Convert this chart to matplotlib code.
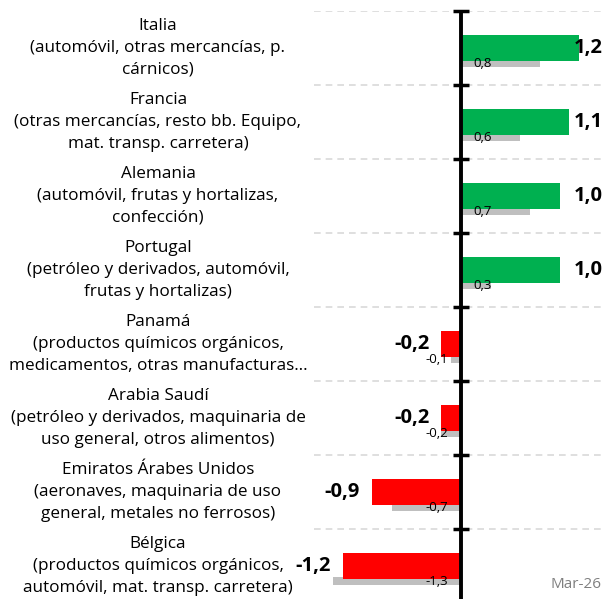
import matplotlib.pyplot as plt
import matplotlib.transforms as mtransforms

plt.rcParams['font.family'] = ['Open Sans', 'DejaVu Sans']

# Data
paises = [
    "Italia\n(automóvil, otras mercancías, p.\ncárnicos)",
    "Francia\n(otras mercancías, resto bb. Equipo,\nmat. transp. carretera)",
    "Alemania\n(automóvil, frutas y hortalizas,\nconfección)",
    "Portugal\n(petróleo y derivados, automóvil,\nfrutas y hortalizas)",
    "Panamá\n(productos químicos orgánicos,\nmedicamentos, otras manufacturas…",
    "Arabia Saudí\n(petróleo y derivados, maquinaria de\nuso general, otros alimentos)",
    "Emiratos Árabes Unidos\n(aeronaves, maquinaria de uso\ngeneral, metales no ferrosos)",
    "Bélgica\n(productos químicos orgánicos,\nautomóvil, mat. transp. carretera)",
]
actual = [1.2, 1.1, 1.0, 1.0, -0.2, -0.2, -0.9, -1.2]
anterior = [0.8, 0.6, 0.7, 0.3, -0.1, -0.2, -0.7, -1.3]
periodo = "Mar-26"

fmt = lambda v: f"{v:.1f}".replace(".", ",")

fig = plt.figure(figsize=(6.04, 5.99), dpi=100)
ax = fig.add_axes([314 / 604, -4 / 599, 290 / 604, 592 / 599])

pos = list(range(len(paises)))
colores = ["#00B050" if v >= 0 else "#FF0000" for v in actual]

ax.barh([p + 0.2 for p in pos], anterior, height=0.11, color="#BFBFBF", zorder=2)
ax.barh(pos, actual, height=0.35, color=colores, zorder=3)

ax.set_xlim(-1.49, 1.45)
ax.set_ylim(7.5, -0.5)
for s in ax.spines.values():
    s.set_visible(False)
ax.set_xticks([])
ax.set_yticks([])

# dashed separators
for b in [p - 0.5 for p in pos] + [pos[-1] + 0.5]:
    ax.axhline(b, color="#D9D9D9", lw=1.2, ls=(0, (4, 3)), zorder=1)
    ax.plot([0], [b], marker="_", ms=12, mew=2.5, color="black", zorder=5, clip_on=False)
ax.axvline(0, color="black", lw=2.8, zorder=5)

px = 1 / 99.0  # approx one pixel in data units
for p, v, a in zip(pos, actual, anterior):
    if v >= 0:
        ax.text(1.44, p, fmt(v), ha="right", va="center", fontsize=14.5, fontweight="bold", zorder=6)
        ax.text(12 * px, p + 0.21, fmt(a), ha="left", va="center", fontsize=9.5, zorder=6)
    else:
        ax.text(v - 12 * px, p, fmt(v), ha="right", va="center", fontsize=14.5, fontweight="bold", zorder=6)
        ax.text(-13 * px, p + 0.21, fmt(a), ha="right", va="center", fontsize=9.5, zorder=6)

trans = mtransforms.blended_transform_factory(fig.transFigure, ax.transData)
for p, lab in zip(pos, paises):
    ax.text(158 / 604, p, lab, transform=trans, ha="center", va="center",
            multialignment="center", fontsize=12.3, linespacing=1.5, clip_on=False)

fig.text(601 / 604, 1 - 585 / 599, periodo, ha="right", va="center", fontsize=11, color="#7F7F7F")

fig.savefig("out.png", dpi=100)
